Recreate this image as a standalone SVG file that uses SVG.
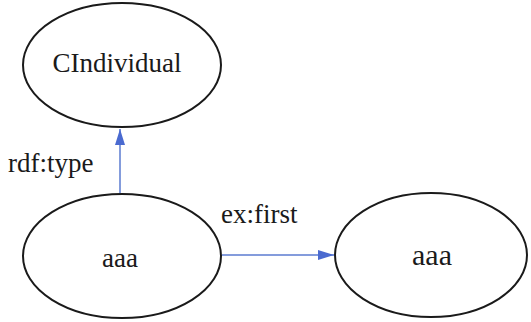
<svg xmlns="http://www.w3.org/2000/svg" width="531" height="322" viewBox="0 0 531 322">
  <style>
    .node ellipse { fill: #ffffff; stroke: #1a1a1a; stroke-width: 2; }
    .label { font-family: 'Liberation Serif', 'Times New Roman', serif; fill: #1a1a1a; }
    .edge { stroke: #5b7bd0; stroke-width: 1.5; fill: none; }
  </style>
  <defs>
    <marker id="arrow" viewBox="0 0 16 10" refX="16" refY="5" markerWidth="16" markerHeight="10" markerUnits="userSpaceOnUse" orient="auto">
      <path d="M0,0 L16,5 L0,10 Z" fill="#4a6ad0"/>
    </marker>
  </defs>
  <rect width="531" height="322" fill="#ffffff"/>

  <g id="connectors">
    <line class="edge" x1="120" y1="193" x2="120" y2="129" marker-end="url(#arrow)"/>
    <line class="edge" x1="222" y1="255" x2="334" y2="255" marker-end="url(#arrow)"/>
    <text class="label" x="8" y="172" font-size="27">rdf:type</text>
    <text class="label" x="221" y="223" font-size="27">ex:first</text>
  </g>

  <g id="node-cindividual" class="node">
    <ellipse cx="122" cy="65" rx="99" ry="62"/>
    <text class="label" x="117" y="72" font-size="27" text-anchor="middle">CIndividual</text>
  </g>

  <g id="node-aaa-subject" class="node">
    <ellipse cx="122" cy="256" rx="99" ry="62"/>
    <text class="label" x="120" y="267" font-size="27" text-anchor="middle">aaa</text>
  </g>

  <g id="node-aaa-object" class="node">
    <ellipse cx="431" cy="255" rx="96" ry="62"/>
    <text class="label" x="432" y="265" font-size="30" text-anchor="middle">aaa</text>
  </g>
</svg>
